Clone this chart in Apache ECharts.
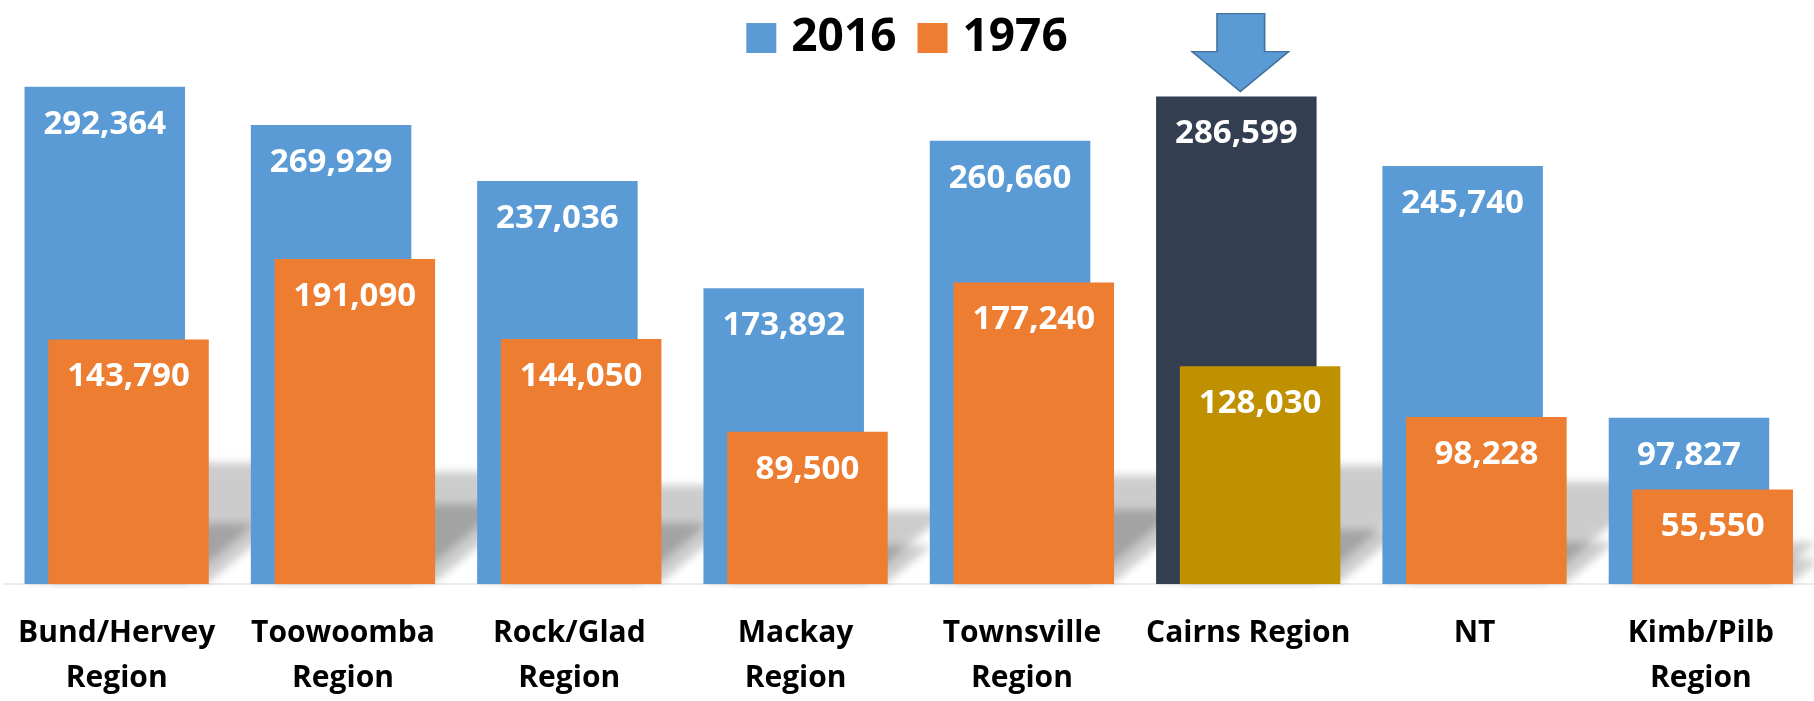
<!DOCTYPE html>
<html>
<head>
<meta charset="utf-8">
<script src="https://cdn.jsdelivr.net/npm/echarts@6/dist/echarts.min.js"></script>
<style>
html,body{margin:0;padding:0;background:#fff;}
#chart{width:1814px;height:701px;}
</style>
</head>
<body>
<div id="chart"></div>
<script>
// ---- data ----
const categories = ['Bund/Hervey\nRegion', 'Toowoomba\nRegion', 'Rock/Glad\nRegion', 'Mackay\nRegion',
  'Townsville\nRegion', 'Cairns Region', 'NT', 'Kimb/Pilb\nRegion'];
const seriesNames = ['2016', '1976'];
const values2016 = [292364, 269929, 237036, 173892, 260660, 286599, 245740, 97827];
const values1976 = [143790, 191090, 144050, 89500, 177240, 128030, 98228, 55550];
const highlightIndex = 5; // Cairns Region

// ---- styles ----
const BLUE = '#5B9BD5', ORANGE = '#ED7D31', DARK = '#333F50', GOLD = '#BF9000';
const FONT = "'Open Sans', 'Liberation Sans', sans-serif";
const BAR_W = 160.5;
const GAP = -0.852;
const SHADOW_H = 0.24, SHADOW_SKEW = 1.2;

const fmt = v => String(v).replace(/\B(?=(\d{3})+(?!\d))/g, ',');

const chart = echarts.init(document.getElementById('chart'));

const labelStyle = {
  show: true, position: 'insideTop', distance: 21,
  color: '#fff', fontFamily: FONT, fontWeight: 'bold', fontSize: 33,
  formatter: p => fmt(p.value)
};

chart.setOption({
  animation: false,
  backgroundColor: '#fff',
  legend: {
    data: seriesNames,
    left: 'center', top: 10,
    icon: 'rect', itemWidth: 30, itemHeight: 30, itemGap: 21,
    textStyle: { color: '#000', fontFamily: FONT, fontWeight: 'bold', fontSize: 46, padding: [0, 0, 0, 10] }
  },
  grid: { left: 3.5, width: 1825, top: 73.8, bottom: 110 },
  xAxis: {
    type: 'category', data: categories,
    axisTick: { show: false },
    axisLine: { show: true, lineStyle: { color: '#ececec', width: 2 } },
    axisLabel: {
      interval: 0, margin: 27, color: '#000', fontFamily: FONT, fontWeight: 'bold',
      fontSize: 30, lineHeight: 45
    }
  },
  yAxis: { type: 'value', min: 0, max: 300000, show: false, splitLine: { show: false } },
  series: [
    {
      type: 'custom', z: 1, silent: true,
      data: categories.map((c, i) => [i, values2016[i], values1976[i]]),
      renderItem: (params, api) => {
        const i = api.value(0);
        const base = api.coord([i, 0]);
        const off = BAR_W * (1 + GAP);
        const left0 = base[0] - (BAR_W + off) / 2;
        const SHIFT = 4000;
        const children = [[api.value(1), left0], [api.value(2), left0 + off]].map(([v, x0]) => {
          const h = base[1] - api.coord([i, v])[1];
          const sh = h * SHADOW_H, sk = sh * SHADOW_SKEW;
          const y0 = base[1] - 2;
          return {
            type: 'polygon',
            shape: { points: [[x0 - SHIFT, y0], [x0 + BAR_W - SHIFT, y0], [x0 + BAR_W + sk - SHIFT, y0 - sh], [x0 + sk - SHIFT, y0 - sh]] },
            style: { fill: '#000', shadowBlur: 9, shadowColor: 'rgba(0,0,0,0.2)', shadowOffsetX: SHIFT, shadowOffsetY: 0 }
          };
        });
        return { type: 'group', children };
      }
    },
    {
      name: seriesNames[0], type: 'bar', z: 2,
      barWidth: BAR_W, barGap: (GAP * 100) + '%',
      itemStyle: { color: BLUE },
      label: labelStyle,
      data: values2016.map((v, i) => i === highlightIndex ? { value: v, itemStyle: { color: DARK } } : v),
      markPoint: {
        silent: true,
        symbol: 'path://M25,0 L72.6,0 L72.6,38 L96.6,38 L48.3,78 L0,38 L25,38 Z',
        symbolSize: [96.6, 78],
        symbolOffset: [4, -44],
        itemStyle: { color: BLUE, borderColor: '#41719C', borderWidth: 1.5 },
        label: { show: false },
        data: [{ coord: [highlightIndex, values2016[highlightIndex]] }]
      }
    },
    {
      name: seriesNames[1], type: 'bar', z: 2,
      barWidth: BAR_W,
      itemStyle: { color: ORANGE },
      label: labelStyle,
      data: values1976.map((v, i) => i === highlightIndex ? { value: v, itemStyle: { color: GOLD } } : v)
    }
  ]
});
</script>
</body>
</html>
